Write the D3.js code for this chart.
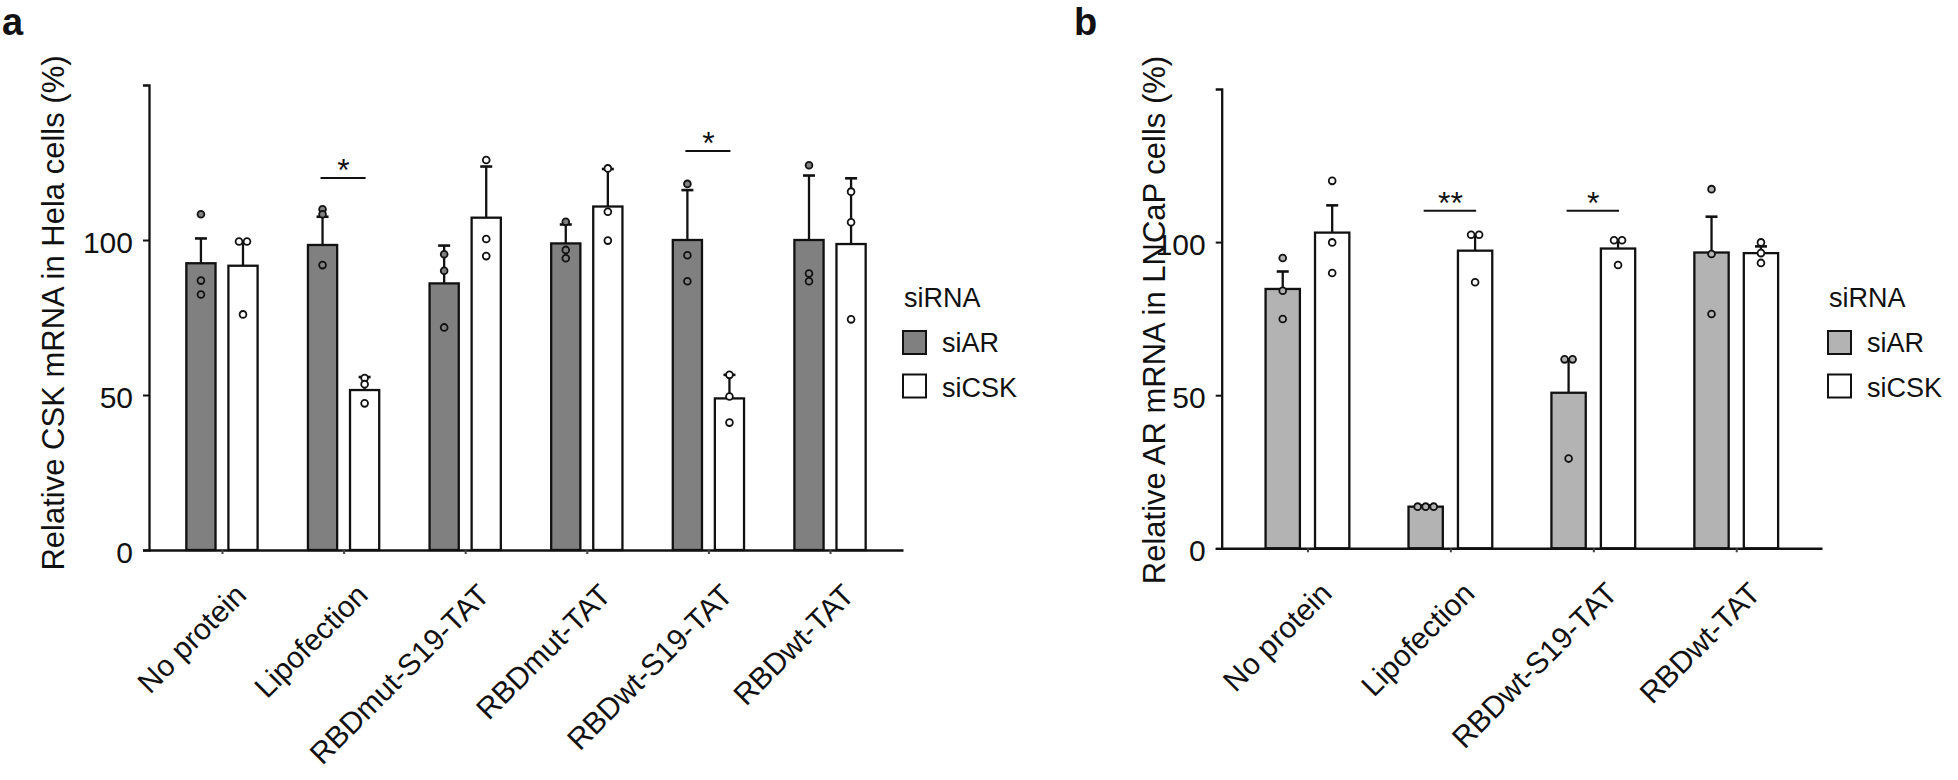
<!DOCTYPE html>
<html><head><meta charset="utf-8">
<script src="https://cdn.jsdelivr.net/npm/d3@7"></script>
<style>
body{margin:0;background:#fff}
svg{display:block}
text{font-family:"Liberation Sans",Arial,Helvetica,sans-serif;fill:#111}
</style>
</head><body>
<svg id="c" width="1958" height="780"></svg>
<script>
// ---------- DATA ----------
const groups = ["siAR", "siCSK"];
const yTicks = [0, 50, 100];

// Panel a: Relative CSK mRNA in Hela cells
const catsA = ["No protein", "Lipofection", "RBDmut-S19-TAT", "RBDmut-TAT", "RBDwt-S19-TAT", "RBDwt-TAT"];
const meanA_siAR  = [92.5, 98.4, 86.0, 98.9, 100.0, 100.0];
const errA_siAR   = [8.0, 9.1, 12.2, 6.1, 16.1, 20.8];
const meanA_siCSK = [91.7, 51.6, 107.2, 110.8, 48.9, 98.7];
const errA_siCSK  = [7.8, 4.2, 16.5, 12.1, 7.6, 21.2];
const ptsA_siAR  = [[108.3, 86.9, 82.4], [109.9, 108.3, 91.9], [95.4, 90.1, 71.8], [105.9, 96.8, 94.1], [118.1, 95.1, 86.7], [124.1, 89.2, 86.7]];
const ptsA_siCSK = [[99.5, 99.5, 76.0], [55.5, 53.5, 47.3], [125.8, 100.3, 94.8], [123.1, 109.1, 99.8], [56.5, 49.5, 41.1], [115.6, 105.7, 74.4]];
const sigA = [{cat: "Lipofection", y: 120, label: "*"}, {cat: "RBDwt-S19-TAT", y: 128.7, label: "*"}];

// Panel b: Relative AR mRNA in LNCaP cells
const catsB = ["No protein", "Lipofection", "RBDwt-S19-TAT", "RBDwt-TAT"];
const meanB_siAR  = [84.7, 13.6, 50.8, 96.6];
const errB_siAR   = [5.7, 0.4, 10.9, 11.7];
const meanB_siCSK = [103.1, 97.2, 97.9, 96.4];
const errB_siCSK  = [8.9, 5.2, 2.5, 2.2];
const ptsB_siAR  = [[94.8, 84.1, 74.9], [13.6, 13.6, 13.6], [61.7, 61.7, 29.3], [117.3, 96.1, 76.5]];
const ptsB_siCSK = [[120.0, 99.9, 89.9], [102.4, 102.4, 86.9], [100.6, 100.6, 92.5], [99.9, 96.4, 93.2]];
const sigB = [{cat: "Lipofection", y: 110.2, label: "**"}, {cat: "RBDwt-S19-TAT", y: 110.2, label: "*"}];

// ---------- DRAW ----------
const svg = d3.select("#c");

function drawPanel(o) {
  const g = svg.append("g");
  const x = d3.scalePoint().domain(o.cats).range([o.left, o.right]).padding(0.6);
  const step = x.step();
  const xg = d3.scaleBand().domain(groups).range([-0.293 * step, 0.293 * step]).paddingInner(0.306);
  const y = d3.scaleLinear().domain([0, 150]).range([o.bottom, o.top]);
  const fills = {siAR: o.fillAR, siCSK: "#ffffff"};

  const rows = [];
  o.cats.forEach((c, i) => {
    rows.push({cat: c, grp: "siAR", mean: o.meanAR[i], err: o.errAR[i], pts: o.ptsAR[i]});
    rows.push({cat: c, grp: "siCSK", mean: o.meanCSK[i], err: o.errCSK[i], pts: o.ptsCSK[i]});
  });
  const cx = d => x(d.cat) + xg(d.grp) + xg.bandwidth() / 2;

  // bars
  g.selectAll("rect.bar").data(rows).join("rect")
    .attr("x", d => x(d.cat) + xg(d.grp))
    .attr("width", xg.bandwidth())
    .attr("y", d => y(d.mean))
    .attr("height", d => y(0) - y(d.mean))
    .attr("fill", d => fills[d.grp])
    .attr("stroke", "#111").attr("stroke-width", 2.3);

  // axes
  const ya = g.append("g").attr("transform", `translate(${o.left},0)`)
    .call(d3.axisLeft(y).tickValues(yTicks).tickSize(6).tickSizeOuter(6).tickPadding(10));
  ya.select(".domain").attr("stroke", "#111").attr("stroke-width", 2.3);
  ya.selectAll(".tick line").attr("stroke", "#111").attr("stroke-width", 2);
  ya.selectAll(".tick text").attr("font-size", 30).attr("dy", "0.42em")
    .style("font-family", '"Liberation Sans",Arial,sans-serif').attr("fill", "#111");

  const xa = g.append("g").attr("transform", `translate(0,${o.bottom})`)
    .call(d3.axisBottom(x).tickSize(4).tickSizeOuter(0).tickFormat(""));
  xa.select(".domain").attr("stroke", "#111").attr("stroke-width", 2.6);
  xa.selectAll(".tick line").attr("stroke", "#444").attr("stroke-width", 2);

  g.selectAll("text.xl").data(o.cats).join("text")
    .attr("class", "xl")
    .attr("transform", c => `translate(${x(c) + 26},${o.bottom + 47}) rotate(-45)`)
    .attr("text-anchor", "end")
    .attr("font-size", 30)
    .text(c => c);

  // error bars (upper only)
  const eb = g.selectAll("g.eb").data(rows).join("g");
  eb.append("line")
    .attr("x1", cx).attr("x2", cx)
    .attr("y1", d => y(d.mean)).attr("y2", d => y(d.mean + d.err))
    .attr("stroke", "#111").attr("stroke-width", 2.3);
  eb.append("line")
    .attr("x1", d => cx(d) - 6).attr("x2", d => cx(d) + 6)
    .attr("y1", d => y(d.mean + d.err)).attr("y2", d => y(d.mean + d.err))
    .attr("stroke", "#111").attr("stroke-width", 2.6);

  // points (ties placed side by side)
  const pts = [];
  const r = 3.4, sp = 8;
  rows.forEach(d => {
    const used = new Array(d.pts.length).fill(false);
    d.pts.forEach((v, i) => {
      if (used[i]) return;
      const cl = [];
      d.pts.forEach((w, j) => { if (!used[j] && Math.abs(w - v) < 0.5) { cl.push(j); used[j] = true; } });
      cl.forEach((j, k) => pts.push({x: cx(d) + (k - (cl.length - 1) / 2) * sp, v: d.pts[j], grp: d.grp}));
    });
  });
  g.selectAll("circle.pt").data(pts).join("circle")
    .attr("cx", d => d.x).attr("cy", d => y(d.v)).attr("r", r)
    .attr("fill", d => fills[d.grp])
    .attr("stroke", "#111").attr("stroke-width", 1.8);

  // significance
  o.sig.forEach(s => {
    const x1 = x(s.cat) + xg("siAR") + xg.bandwidth() / 2;
    const x2 = x(s.cat) + xg("siCSK") + xg.bandwidth() / 2;
    g.append("line").attr("x1", x1 - 2).attr("x2", x2 + 1)
      .attr("y1", y(s.y)).attr("y2", y(s.y))
      .attr("stroke", "#111").attr("stroke-width", 2);
    g.append("text").attr("x", (x1 + x2) / 2).attr("y", y(s.y) + 3)
      .attr("text-anchor", "middle").attr("font-size", 32).text(s.label);
  });

  // y title
  g.append("text")
    .attr("transform", `translate(${o.titleX},${o.titleY}) rotate(-90)`)
    .attr("text-anchor", "middle").attr("font-size", 31).text(o.yTitle);

  // legend
  const lg = g.append("g").attr("transform", `translate(${o.legendX},0)`);
  lg.append("text").attr("x", 0).attr("y", 307).attr("font-size", 27).text("siRNA");
  groups.forEach((grp, i) => {
    lg.append("rect").attr("x", -1).attr("y", 331 + i * 43.5).attr("width", 23).attr("height", 23)
      .attr("fill", fills[grp]).attr("stroke", "#111").attr("stroke-width", 2);
    lg.append("text").attr("x", 38).attr("y", 352 + i * 44.5).attr("font-size", 27).text(grp);
  });

  // panel label
  g.append("text").attr("x", o.labelX).attr("y", 35).attr("font-size", 38)
    .attr("font-weight", "bold").text(o.label);
}

drawPanel({
  cats: catsA, meanAR: meanA_siAR, errAR: errA_siAR, meanCSK: meanA_siCSK, errCSK: errA_siCSK,
  ptsAR: ptsA_siAR, ptsCSK: ptsA_siCSK, sig: sigA, fillAR: "#808080",
  left: 149, right: 903, top: 85, bottom: 550,
  yTitle: "Relative CSK mRNA in Hela cells (%)", titleX: 64, titleY: 313,
  legendX: 904, label: "a", labelX: 2
});
drawPanel({
  cats: catsB, meanAR: meanB_siAR, errAR: errB_siAR, meanCSK: meanB_siCSK, errCSK: errB_siCSK,
  ptsAR: ptsB_siAR, ptsCSK: ptsB_siCSK, sig: sigB, fillAR: "#b3b3b3",
  left: 1221.7, right: 1822, top: 89, bottom: 548.3,
  yTitle: "Relative AR mRNA in LNCaP cells (%)", titleX: 1165, titleY: 320,
  legendX: 1829, label: "b", labelX: 1074
});
</script>
</body></html>
